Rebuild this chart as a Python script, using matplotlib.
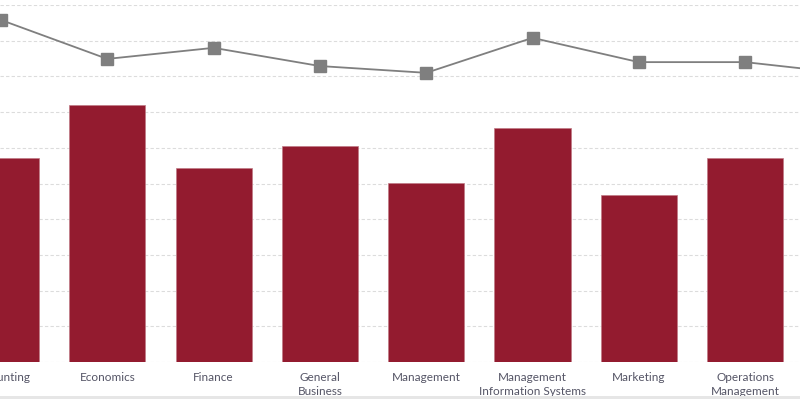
import matplotlib
matplotlib.use("Agg")
import matplotlib.pyplot as plt
from matplotlib.patches import Rectangle

categories = ["Accounting", "Economics", "Finance", "General\nBusiness", "Management",
              "Management\nInformation Systems", "Marketing", "Operations\nManagement",
              "Supply Chain\nManagement"]
bar_values = [57.1, 72.0, 54.3, 60.5, 50.1, 65.5, 46.8, 57.1, 55.0]
line_values = [95.8, 84.9, 88.0, 82.9, 81.0, 90.8, 84.0, 84.0, 80.7]

fig = plt.figure(figsize=(8, 3.99), dpi=100)
W, H = 800, 399
base_px = 362
top_px = 5
spacing = 106.3
first_px = 1
ax = fig.add_axes([0, (H - base_px) / H, 1, (base_px - top_px) / H])

x = list(range(len(categories)))
ax.bar(x, bar_values, width=0.715, color="#931b2f", edgecolor="#c07a86", linewidth=0.5, zorder=2)
ax.plot(x, line_values, color="#7f7f7f", lw=1.3, marker="s", markersize=8,
        markerfacecolor="#7f7f7f", markeredgecolor="#7f7f7f", zorder=3)

ax.set_yticks(range(0, 101, 10))
ax.yaxis.grid(True, color="#dcdcdc", linestyle=(0, (3, 2)), linewidth=0.8, zorder=0)
ax.set_axisbelow(True)
ax.tick_params(axis="y", left=False, labelleft=False)
ax.set_xticks(x)
ax.set_xticklabels(categories, fontsize=8.5, color="#555566", family=["Lato", "DejaVu Sans"],
                   linespacing=1.35)
ax.tick_params(axis="x", length=0, pad=7)
ax.set_xlim(-first_px / spacing, (W - first_px) / spacing)
ax.set_ylim(0, 100)
for s in ax.spines.values():
    s.set_visible(False)

fig.patches.append(Rectangle((0, 0), 1, 3.5 / H, transform=fig.transFigure,
                             facecolor="#e6e6e6", edgecolor="none", zorder=10))
fig.savefig("out.png", dpi=100)
